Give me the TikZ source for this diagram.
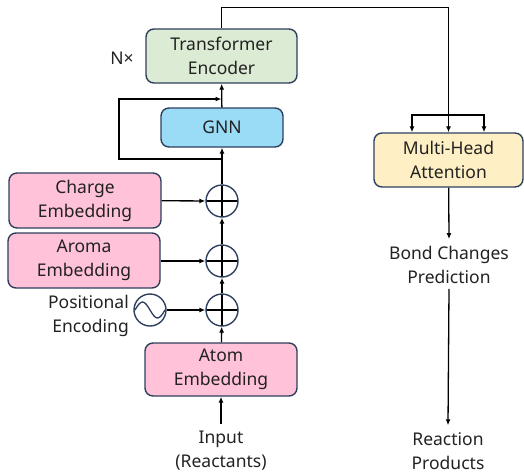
\documentclass[tikz,border=0pt]{standalone}
\usepackage{fontspec}
\setmainfont{Noto Sans}
\usetikzlibrary{arrows.meta}
\usetikzlibrary{calc}

\definecolor{edgeblue}{HTML}{2E3F5E}
\definecolor{pinkfill}{HTML}{FFC2D8}
\definecolor{greenfill}{HTML}{DCEBD4}
\definecolor{bluefill}{HTML}{9ADCF6}
\definecolor{yellowfill}{HTML}{FEF0C4}
\definecolor{txt}{HTML}{222222}

\tikzset{
    block/.style={draw=edgeblue, line width=1.4pt, rounded corners=8pt, align=center, inner sep=0pt},
    label/.style={align=center, inner sep=1pt},
    arr/.style={-{Latex[length=6pt,width=5pt]}, line width=1.3pt},
    plus/.style={circle, draw=edgeblue, line width=1.4pt, minimum size=32pt, inner sep=0pt,
        path picture={
            \draw[black, line width=1.3pt] (path picture bounding box.north) -- (path picture bounding box.south);
            \draw[black, line width=1.3pt] (path picture bounding box.west) -- (path picture bounding box.east);
        }},
    wave/.style={circle, draw=edgeblue, line width=1.4pt, minimum size=32pt, inner sep=0pt,
        path picture={
            \draw[edgeblue, line width=1.3pt] ($(path picture bounding box.center)+(-15pt,0pt)$)
                sin +(7.5pt,8pt) cos +(7.5pt,-8pt) sin +(7.5pt,-8pt) cos +(7.5pt,8pt);
        }}
}

\begin{document}
\begin{tikzpicture}[x=1pt, y=-1pt, font=\fontsize{17.5pt}{24pt}\selectfont, text=txt]

    \useasboundingbox (0,0) rectangle (524,474);

    % boxes
    \node[block, fill=greenfill, minimum width=151pt, minimum height=54pt] (encoder) at (221.5,56) {Transformer\\Encoder};
    \node[block, fill=bluefill, minimum width=122pt, minimum height=39pt] (gnn) at (222,127.5) {GNN};
    \node[block, fill=pinkfill, minimum width=152pt, minimum height=55pt] (charge) at (85,200.5) {Charge\\Embedding};
    \node[block, fill=pinkfill, minimum width=152pt, minimum height=55pt] (aroma) at (84,260.5) {Aroma\\Embedding};
    \node[block, fill=pinkfill, minimum width=152pt, minimum height=53pt] (atom) at (221,369.5) {Atom\\Embedding};
    \node[block, fill=yellowfill, minimum width=149pt, minimum height=54pt] (mha) at (448.5,160) {Multi-Head\\Attention};

    % adders
    \node[plus] (add1) at (222,201) {};
    \node[plus] (add2) at (222,261) {};
    \node[plus] (add3) at (222,310) {};
    \node[wave] (pos) at (150,310) {};

    % texts
    \node[label] (times) at (122,58) {N×};
    \node[label, align=right, anchor=east] (posenc) at (130,316) {Positional\\Encoding};
    \node[label] (input) at (221,451) {Input\\(Reactants)};
    \node[label] (bond) at (449,265) {Bond Changes\\Prediction};
    \node[label] (products) at (448,451) {Reaction\\Products};

    % main column
    \draw[arr] ([yshift=6pt]input.north) -- (atom);
    \draw[arr] (atom) -- (add3);
    \draw[arr] (add3) -- (add2);
    \draw[arr] (add2) -- (add1);
    \draw[arr] (add1) -- (gnn);
    \draw[arr] (gnn) -- (encoder);

    \draw[arr] (charge) -- (add1);
    \draw[arr] (aroma.east |- add2) -- (add2);
    \draw[arr] (pos) -- (add3);

    % skip around gnn
    \coordinate (loopin) at (221.5,159);
    \coordinate (loopout) at (221.5,99);
    \draw[arr] (loopin) -- ++(-102.5,0) |- (loopout);

    % right branch
    \coordinate (split) at (448.5,115);
    \draw[line width=1.3pt] (encoder.north) -- ++(0,-21) -| (split);
    \draw[arr] (split) -- (mha);
    \draw[arr] (split) -| ([xshift=-36.5pt]mha.north);
    \draw[arr] (split) -| ([xshift=35.5pt]mha.north);

    \draw[arr] (mha) -- ([yshift=6pt]bond.north);
    \draw[arr] ([yshift=-4pt]bond.south) -- ([yshift=6pt]products.north);

\end{tikzpicture}
\end{document}
